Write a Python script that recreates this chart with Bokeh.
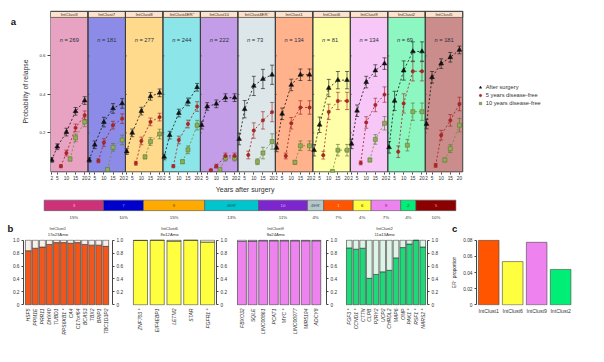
import math
from bokeh.plotting import figure
from bokeh.models import (Range1d, FixedTicker, LinearAxis, Label, Legend, LegendItem,
                          ColumnDataSource, Whisker, TeeHead, AllLabels)
from bokeh.layouts import column, row
from bokeh.embed import file_html
from bokeh.resources import INLINE
from bokeh.core.properties import value

# ---------------- data ----------------
strip_labels = ["IntClust3", "IntClust7", "IntClust8", "IntClust4ER\u207a", "IntClust10",
                "IntClust4ER\u207b", "IntClust1", "IntClust6", "IntClust9", "IntClust2", "IntClust5"]
bar_labels = ["3", "7", "8", "4ER\u207a", "10", "4ER\u207b", "1", "6", "9", "2", "5"]
cluster_n = [269, 181, 277, 244, 222, 73, 134, 81, 134, 69, 181]
cluster_pct = ["15%", "10%", "15%", "13%", "11%", "4%", "7%", "4%", "7%", "4%", "10%"]
cluster_colors = ["#CD3278", "#0000CD", "#FFAA00", "#00C5CD", "#7D26CD", "#B4C8CC",
                  "#FF5500", "#FFFF40", "#EE82EE", "#00EE76", "#8B0000"]
bar_label_colors = ["#F6B6D2", "#8F8FFF", "#7A4A00", "#07656A", "#D7B3FA", "#44555A",
                    "#FFD2B8", "#333300", "#7A2A8A", "#05603A", "#E49A9A"]

years_after = [2, 5, 10, 15, 20]
years_5 = [7, 10, 15, 20]
years_10 = [12, 15, 20]

relapse_after = [
    [0.059, 0.128, 0.204, 0.312, 0.368],
    [0.059, 0.138, 0.256, 0.327, 0.353],
    [0.103, 0.200, 0.313, 0.390, 0.408],
    [0.075, 0.188, 0.303, 0.361, 0.437],
    [0.240, 0.337, 0.351, 0.383, 0.383],
    [0.168, 0.323, 0.444, 0.480, 0.502],
    [0.122, 0.299, 0.449, 0.502, 0.502],
    [0.110, 0.242, 0.433, 0.474, 0.474],
    [0.143, 0.315, 0.464, 0.524, 0.560],
    [0.125, 0.366, 0.524, 0.623, 0.623],
    [0.246, 0.489, 0.560, 0.593, 0.631]]
err_after = [
    [0.012, 0.015, 0.020, 0.020, 0.020],
    [0.012, 0.020, 0.025, 0.025, 0.025],
    [0.015, 0.020, 0.020, 0.020, 0.020],
    [0.015, 0.020, 0.020, 0.020, 0.020],
    [0.020, 0.020, 0.020, 0.020, 0.020],
    [0.030, 0.045, 0.050, 0.050, 0.050],
    [0.020, 0.030, 0.030, 0.030, 0.030],
    [0.030, 0.040, 0.045, 0.045, 0.045],
    [0.025, 0.030, 0.030, 0.030, 0.030],
    [0.030, 0.050, 0.050, 0.050, 0.050],
    [0.025, 0.030, 0.025, 0.025, 0.020]]
relapse_5 = [
    [0.027, 0.095, 0.226, 0.292],
    [0.055, 0.150, 0.240, 0.274],
    [0.042, 0.158, 0.257, 0.282],
    [0.027, 0.163, 0.246, 0.337],
    [0.006, 0.027, 0.080, 0.080],
    [0.085, 0.212, 0.265, 0.308],
    [0.080, 0.250, 0.332, 0.332],
    [0.084, 0.309, 0.366, 0.366],
    [0.044, 0.254, 0.345, 0.399],
    [0.102, 0.353, 0.520, 0.520],
    [0.031, 0.188, 0.265, 0.350]]
err_5 = [
    [0.008, 0.015, 0.020, 0.022],
    [0.010, 0.020, 0.020, 0.025],
    [0.010, 0.020, 0.020, 0.020],
    [0.008, 0.020, 0.020, 0.025],
    [0.005, 0.010, 0.015, 0.015],
    [0.020, 0.040, 0.045, 0.050],
    [0.015, 0.030, 0.035, 0.035],
    [0.020, 0.040, 0.045, 0.045],
    [0.010, 0.030, 0.035, 0.040],
    [0.030, 0.050, 0.050, 0.050],
    [0.010, 0.025, 0.030, 0.035]]
relapse_10 = [
    [0.064, 0.174, 0.257],
    [0.010, 0.125, 0.163],
    [0.075, 0.155, 0.194],
    [0.050, 0.112, 0.240],
    [0.010, 0.069, 0.069],
    [0.050, 0.095, 0.155],
    [0.047, 0.133, 0.133],
    [0.000, 0.110, 0.110],
    [0.059, 0.166, 0.250],
    [0.136, 0.310, 0.310],
    [0.059, 0.118, 0.240]]
err_10 = [
    [0.010, 0.020, 0.025],
    [0.005, 0.020, 0.025],
    [0.010, 0.020, 0.025],
    [0.010, 0.020, 0.025],
    [0.005, 0.015, 0.015],
    [0.015, 0.030, 0.040],
    [0.010, 0.025, 0.025],
    [0.005, 0.030, 0.030],
    [0.010, 0.025, 0.035],
    [0.030, 0.045, 0.045],
    [0.010, 0.020, 0.035]]
relapse_ticks = [0.2, 0.4, 0.6]

genes_ic1 = ["HSF5", "PPM1E", "PRR11", "DHX40", "TUBD1", "RPS6KB1 *", "CA4", "C17orf64",
             "BCAS3", "TBX2", "BRIP1", "TBC1D3P2"]
amp_ic1 = [0.837, 0.875, 0.894, 0.933, 0.962, 0.962, 0.952, 0.962, 0.933, 0.923, 0.923, 0.904]
genes_ic6 = ["ZNF703 *", "EIF4EBP1", "LETM2", "STAR", "FGFR1 *"]
amp_ic6 = [0.995, 1.0, 0.985, 1.0, 0.970]
genes_ic9 = ["FBXO32", "SQLE", "LINC00861", "PCAT1", "MYC *", "LINC00977", "MIR5194", "ADCY8"]
amp_ic9 = [0.980, 0.985, 0.990, 0.990, 0.990, 0.990, 0.990, 0.990]
genes_ic2 = ["FGF3 *", "CCND1 *", "CTTN", "CLPB", "P2RY2", "UCP2", "CHRDL2", "MAP6", "OMP",
             "PAK1 *", "RSF1 *", "NARS2 *"]
amp_ic2 = [0.880, 0.860, 0.875, 0.410, 0.470, 0.510, 0.534, 0.726, 0.885, 0.940, 1.0, 0.894]
frac_ticks = [0, 0.2, 0.4, 0.6, 0.8, 1.0]
b_titles = ["IntClust1", "IntClust6", "IntClust9", "IntClust2"]
b_subtitles = ["17q23Amp", "8p12Amp", "8q24Amp", "11q13Amp"]

erpos_clusters = ["IntClust1", "IntClust6", "IntClust9", "IntClust2"]
erpos_prop = [0.080, 0.0536, 0.0775, 0.0439]
erpos_colors = ["#FF5500", "#FFFF40", "#EE82EE", "#00EE76"]
erpos_ticks = [0, 0.02, 0.04, 0.06, 0.08]

# ---------------- layout helpers ----------------
FONT = "Liberation Sans"
TXT = "#333333"
S = 346 / 362.0
GEO = {}


def PX(x):
    return x * S


def PY(y):
    return y * S


def F(v):
    return "%.2fpx" % (v * S)


def make_fig(fx0, fx1, fy0, fy1, fl, fr, ft, fb, xr, yr, **kw):
    left, right = round(PX(fx0)), round(PX(fx1))
    top, bottom = round(PY(fy0)), round(PY(fy1))
    fL, fR, fT, fB = round(PX(fl)), round(PX(fr)), round(PY(ft)), round(PY(fb))
    p = figure(width=right - left, height=bottom - top, x_range=xr, y_range=yr,
               output_backend="svg", toolbar_location=None,
               min_border_left=fL - left, min_border_right=right - fR,
               min_border_top=fT - top, min_border_bottom=bottom - fB, **kw)
    p.outline_line_color = None
    p.grid.visible = False
    p.background_fill_color = "white"
    p.border_fill_color = "white"
    GEO[p.id] = (fl, fr, ft, fb, xr.start, xr.end, yr.start, yr.end)
    return p


def to_data(p, xref, yref):
    fl, fr, ft, fb, xs, xe, ys, ye = GEO[p.id]
    return (xs + (xref - fl) / (fr - fl) * (xe - xs),
            ys + (fb - yref) / (fb - ft) * (ye - ys))


def style_axis(ax, size=5):
    ax.major_label_text_font = FONT
    ax.major_label_text_font_size = F(size)
    ax.major_label_text_color = TXT
    ax.axis_label_text_font = FONT
    ax.axis_label_text_color = TXT
    ax.axis_label_text_font_style = "normal"
    ax.major_tick_line_color = "#444444"
    ax.axis_line_color = "#444444"
    ax.minor_tick_out = 0
    ax.minor_tick_in = 0
    ax.major_tick_in = 0


def add_label(p, xref, yref, text, size, bold=False, color=TXT, align="center"):
    x, y = to_data(p, xref, yref)
    p.add_layout(Label(x=x, y=y, text=text, text_font=FONT, text_font_size=F(size),
                       text_font_style="bold" if bold else "normal", text_color=color,
                       text_align=align, text_baseline="middle"))


# ---------------- letter "a" strip ----------------
fla = make_fig(0, 20, 0, 190, 0, 20, 0, 190, Range1d(0, 20), Range1d(190, 0),
               x_axis_location=None, y_axis_location=None)
add_label(fla, 13.5, 12.5, "a", 10, bold=True, color="#111111")

# ---------------- panel a ----------------
PW = 20.5
X0 = 1.3
A_FL, A_FR, A_FT, A_FB = 48.0, 601.0, 10.85, 180.5
fa = make_fig(20, 604, 0, 190, A_FL, A_FR, A_FT, A_FB,
              Range1d(X0, X0 + (A_FR - A_FL) / 39.55 * PW), Range1d(-0.006, 0.836))

nc = len(strip_labels)
lefts = [X0 + i * PW for i in range(nc)]
rights = [X0 + (i + 1) * PW for i in range(nc)]
mids = [X0 + (i + 0.5) * PW for i in range(nc)]

fa.quad(left=lefts, right=rights, bottom=-0.006, top=0.8, fill_color=cluster_colors,
        fill_alpha=0.45, line_color=None, level="image")
fa.quad(left=lefts, right=rights, bottom=0.8, top=0.832, fill_color="#FBE3CF",
        line_color="#5A4636", line_width=0.8)
fa.quad(left=lefts, right=rights, bottom=-0.003, top=0.832, fill_color=None,
        line_color="#3D3D3D", line_width=1)
fa.segment(x0=[lefts[i] for i in range(1, nc) for t in relapse_ticks],
           x1=[lefts[i] + 0.8 for i in range(1, nc) for t in relapse_ticks],
           y0=[t for i in range(1, nc) for t in relapse_ticks],
           y1=[t for i in range(1, nc) for t in relapse_ticks],
           line_color="#444444", line_width=0.7)
fa.text(x=mids, y=0.816, text=strip_labels, text_font=value(FONT), text_font_size=value(F(4.5)),
        text_align="center", text_baseline="middle", text_color="#3A2A1A")
fa.text(x=mids, y=0.681, text=["n"] * nc, text_font=value(FONT), text_font_size=value(F(6)),
        text_font_style="italic", text_align="left", text_baseline="middle",
        text_color="#2A3040", x_offset=-9.5)
fa.text(x=mids, y=0.681, text=["= %d" % v for v in cluster_n], text_font=value(FONT),
        text_font_size=value(F(6)), text_align="left", text_baseline="middle",
        text_color="#2A3040", x_offset=-4.8)


def series(years, vals, errs, color, marker, size, fill, dash_color):
    xs = [[i * PW + t for t in years] for i in range(nc)]
    fa.multi_line(xs=xs, ys=vals, line_color=dash_color, line_dash="2 2", line_width=0.8)
    fx = [x for row_ in xs for x in row_]
    fy = [y for row_ in vals for y in row_]
    fe = [e for row_ in errs for e in row_]
    src = ColumnDataSource(dict(x=fx, y=fy, upper=[y + e for y, e in zip(fy, fe)],
                                lower=[y - e for y, e in zip(fy, fe)]))
    fa.add_layout(Whisker(source=src, base="x", upper="upper", lower="lower",
                          line_color=color, line_width=0.6,
                          upper_head=TeeHead(size=4, line_color=color, line_width=0.6),
                          lower_head=TeeHead(size=4, line_color=color, line_width=0.6)))
    return fa.scatter(x="x", y="y", source=src, marker=marker, size=size,
                      fill_color=fill, line_color=color, line_width=0.5)


r10 = series(years_10, relapse_10, err_10, "#55702A", "square", 4, "#8FAF55", "#6E8A3A")
r5 = series(years_5, relapse_5, err_5, "#9A1E1E", "circle", 3.4, "#B02424", "#9A1E1E")
r0 = series(years_after, relapse_after, err_after, "#111111", "triangle", 4.8, "#111111", "#111111")

leg = Legend(items=[LegendItem(label="After surgery", renderers=[r0]),
                    LegendItem(label="5 years disease-free", renderers=[r5]),
                    LegendItem(label="10 years disease-free", renderers=[r10])],
             location=(PX(494.5) - PX(A_FL), PY(A_FB) - PY(111.5)))
leg.label_text_font = FONT
leg.label_text_font_size = F(6)
leg.label_text_color = TXT
leg.glyph_width = 6
leg.glyph_height = 6
leg.label_height = 7
leg.label_standoff = 3
leg.spacing = 1
leg.padding = 0
leg.margin = 0
leg.border_line_color = None
leg.background_fill_alpha = 0
fa.add_layout(leg)

xt = [i * PW + t for i in range(nc) for t in years_after]
style_axis(fa.xaxis[0], 5)
fa.xaxis.ticker = FixedTicker(ticks=xt)
fa.xaxis.major_label_overrides = {float(i * PW + t): str(t) for i in range(nc) for t in years_after}
fa.xaxis.major_label_policy = AllLabels()
fa.xaxis.axis_line_color = None
fa.xaxis.major_tick_out = 2
fa.xaxis.major_label_standoff = 1
style_axis(fa.yaxis[0], 4.6)
fa.yaxis.ticker = FixedTicker(ticks=relapse_ticks)
fa.yaxis.axis_line_color = None
fa.yaxis.major_tick_out = 3
fa.yaxis.major_label_standoff = 2
fa.yaxis.axis_label = "Probability of relapse"
fa.yaxis.axis_label_text_font_size = F(7.2)
fa.yaxis.axis_label_standoff = 7

# ---------------- colour bar ----------------
BAR_L, BAR_R = 45.7, 476.7
total_n = sum(cluster_n)
u = total_n / (BAR_R - BAR_L)
fbar = make_fig(0, 604, 190, 233, 0, 604, 190, 233,
                Range1d(-BAR_L * u, total_n + (604 - BAR_R) * u), Range1d(233, 190),
                x_axis_location=None, y_axis_location=None)
cum_l = [sum(cluster_n[:i]) for i in range(nc)]
cum_r = [cum_l[i] + cluster_n[i] for i in range(nc)]
cum_m = [(a + b) / 2 for a, b in zip(cum_l, cum_r)]
fbar.quad(left=cum_l, right=cum_r, bottom=219.5, top=208.5, fill_color=cluster_colors,
          line_color="#555555", line_width=0.6)
fbar.text(x=cum_m, y=214, text=bar_labels, text_font=value(FONT), text_font_size=value(F(4.6)),
          text_align="center", text_baseline="middle", text_color=bar_label_colors)
fbar.text(x=cum_m, y=227, text=cluster_pct, text_font=value(FONT), text_font_size=value(F(4.6)),
          text_align="center", text_baseline="middle", text_color=TXT)
add_label(fbar, 256, 197.5, "Years after surgery", 7.3)

# ---------------- header of panels b and c ----------------
HB = 246.5
fhead = make_fig(0, 604, 233, HB, 0, 604, 233, HB, Range1d(0, 604), Range1d(HB, 233),
                 x_axis_location=None, y_axis_location=None)
title_x = [60, 177, 288, 402]
fhead.text(x=title_x, y=238.3, text=b_titles, text_font=value(FONT),
           text_font_size=value(F(4.4)), text_align="center", text_baseline="middle",
           text_color=TXT)
fhead.text(x=title_x, y=244.3, text=b_subtitles, text_font=value(FONT),
           text_font_size=value(F(4.4)), text_align="center", text_baseline="middle",
           text_color=TXT)
fhead.text(x=[10.5, 475.5], y=238.5, text=["b", "c"], text_font=value(FONT),
           text_font_size=value(F(10)), text_font_style="bold", text_align="center",
           text_baseline="middle", text_color="#111111")

# ---------------- panel b ----------------
B_FT, B_FB = 248.6, 319.4


def bar_panel(fx0, fx1, fl, fr, bl, br, genes, vals, color, pale, left_axis):
    n = len(genes)
    w = 0.84
    pitch = (br - bl) / (n - 1 + w)
    c0 = bl + w / 2 * pitch
    p = make_fig(fx0, fx1, HB, 362, fl, fr, B_FT, B_FB,
                 Range1d((fl - c0) / pitch, (fr - c0) / pitch), Range1d(-0.01, 1.01),
                 y_axis_location="left" if left_axis else None)
    idx = list(range(n))
    p.vbar(x=idx, width=w, bottom=0, top=vals, fill_color=color, line_color="#333333",
           line_width=0.6)
    p.vbar(x=idx, width=w, bottom=vals, top=1.0, fill_color=pale, line_color="#333333",
           line_width=0.6)
    style_axis(p.xaxis[0], 5.3)
    p.xaxis.ticker = FixedTicker(ticks=idx)
    p.xaxis.major_label_overrides = {i: g for i, g in enumerate(genes)}
    p.xaxis.major_label_policy = AllLabels()
    p.xaxis.major_label_orientation = math.pi / 2
    p.xaxis.major_label_text_font_style = "italic"
    p.xaxis.axis_line_color = None
    p.xaxis.major_tick_out = 0
    p.xaxis.major_label_standoff = 3
    axes = [LinearAxis()]
    p.add_layout(axes[0], "right")
    if left_axis:
        axes.append(p.yaxis[0])
    for ax in axes:
        style_axis(ax, 5)
        ax.ticker = FixedTicker(ticks=frac_ticks)
        ax.major_label_overrides = {0: "0", 1: "1.0"}
        ax.bounds = (0, 1)
        ax.major_tick_out = 2
        ax.major_label_standoff = 2
    return p


fb1 = bar_panel(0, 134, 24, 117, 26, 113, genes_ic1, amp_ic1, "#F2561A", "#F7F0EC", True)
fb2 = bar_panel(134, 244, 137, 226, 139, 224, genes_ic6, amp_ic6, "#FFFF40", "#FAFAE0", False)
fb3 = bar_panel(244, 358, 247, 341, 248, 335, genes_ic9, amp_ic9, "#EE82EE", "#F8E8F8", False)
fb4 = bar_panel(358, 470, 361, 447, 362, 445, genes_ic2, amp_ic2, "#1ED87A", "#DDF4E7", False)

# ---------------- panel c ----------------
C_FL, C_FR, C_FT, C_FB = 498.0, 600.0, 250.5, 348.66
cw = 0.86
cpitch = (597.3 - 500.0) / (len(erpos_clusters) - 1 + cw)
cc0 = 500.0 + cw / 2 * cpitch
fc = make_fig(470, 604, HB, 362, C_FL, C_FR, C_FT, C_FB,
              Range1d((C_FL - cc0) / cpitch, (C_FR - cc0) / cpitch), Range1d(-0.0008, 0.081))
cidx = list(range(len(erpos_clusters)))
fc.vbar(x=cidx, width=cw, bottom=0, top=erpos_prop, fill_color=erpos_colors,
        line_color="#444444", line_width=0.6)
style_axis(fc.xaxis[0], 5.4)
fc.xaxis.ticker = FixedTicker(ticks=cidx)
fc.xaxis.major_label_overrides = {i: g for i, g in enumerate(erpos_clusters)}
fc.xaxis.major_label_policy = AllLabels()
fc.xaxis.axis_line_color = None
fc.xaxis.major_tick_out = 0
fc.xaxis.major_label_standoff = 2
style_axis(fc.yaxis[0], 5)
fc.yaxis.ticker = FixedTicker(ticks=erpos_ticks)
fc.yaxis.major_label_overrides = {0: "0"}
fc.yaxis.bounds = (0, 0.08)
fc.yaxis.major_tick_out = 2
fc.yaxis.major_label_standoff = 2
fc.yaxis.axis_label = "ER\u207a proportion"
fc.yaxis.axis_label_text_font_size = F(5)
fc.yaxis.axis_label_standoff = 3

layout = column(row(fla, fa), fbar, fhead, row(fb1, fb2, fb3, fb4, fc))
open("out.html", "w").write(file_html(layout, INLINE))
